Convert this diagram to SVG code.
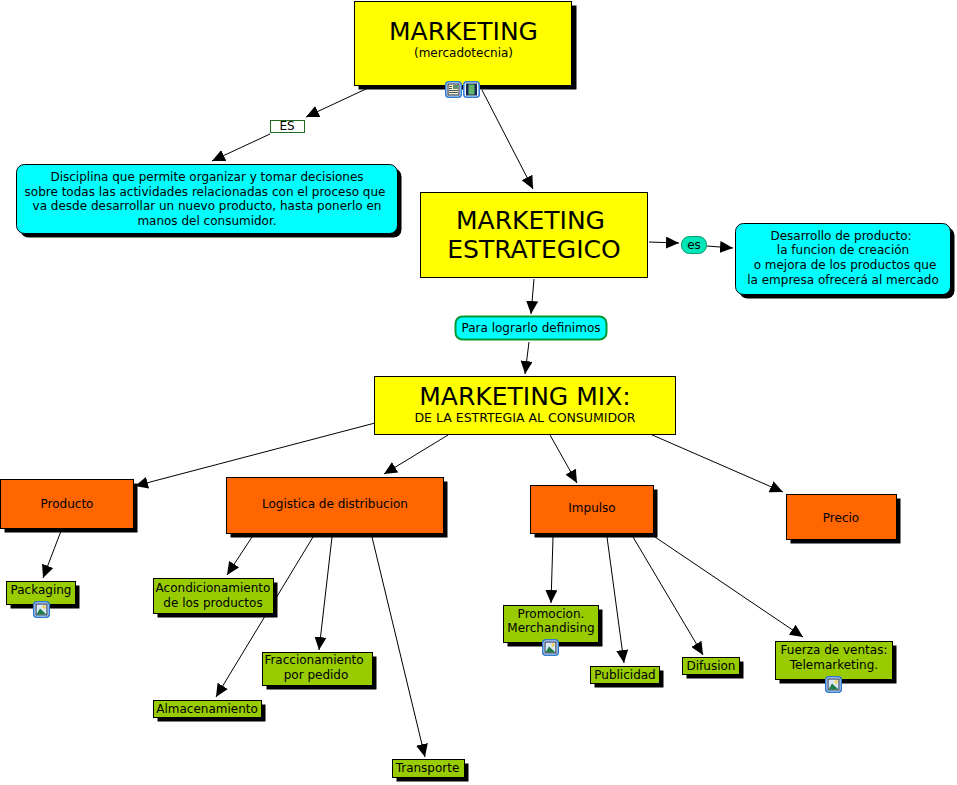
<svg xmlns="http://www.w3.org/2000/svg" width="957" height="785" viewBox="0 0 957 785">
<style>
text{font-family:"DejaVu Sans",Verdana,sans-serif;text-anchor:middle;fill:#000}
.s{font-size:12px}
.t{font-size:25px}
.c{stroke:#000;stroke-width:1;fill:none;marker-end:url(#a)}
.sh{fill:#000}
.b{stroke:#000;stroke-width:1}
.y{fill:#ffff00}.o{fill:#ff6600}.g{fill:#99cc00}.n{fill:#00ffff}
</style>
<defs>
<marker id="a" markerUnits="userSpaceOnUse" markerWidth="14" markerHeight="12" refX="13" refY="6" orient="auto"><path d="M0,0L13,6L0,12Z" fill="#000"/></marker>
<symbol id="pic" viewBox="0 0 17 17"><rect x=".75" y=".75" width="15.500" height="15.500" rx="3" fill="#eaf3fc" stroke="#2f78d0" stroke-width="1.500"/><rect x="3" y="3" width="11" height="11" fill="#d8e8f6" stroke="#14264f"/><circle cx="11" cy="6" r="1.700" fill="#f3d34a"/><path d="M3.500,13.500L7,7.500L13.500,13.500Z" fill="#1f7a45"/></symbol>
<symbol id="doc" viewBox="0 0 17 17"><rect x=".75" y=".75" width="15.500" height="15.500" rx="3" fill="#eaf3fc" stroke="#2f78d0" stroke-width="1.500"/><rect x="3" y="3" width="11" height="11" fill="#fff7c8" stroke="#14264f"/><rect x="8" y="4" width="5" height="4" fill="#5f8f70"/><path d="M4,9.500H13M4,11.500H13M4,5.500H7M4,7.500H7" stroke="#14264f" stroke-width=".8"/></symbol>
<symbol id="film" viewBox="0 0 17 17"><rect x=".75" y=".75" width="15.500" height="15.500" rx="3" fill="#eaf3fc" stroke="#2f78d0" stroke-width="1.500"/><rect x="3" y="2.500" width="11" height="12" fill="#14264f"/><rect x="5.500" y="3.500" width="6" height="10" fill="#63b46b"/></symbol>
</defs>
<g id="connectors">
<path class="c" d="M368,88L306,117"/>
<path class="c" d="M270,134L212,161"/>
<path class="c" d="M482,90L533,189"/>
<path class="c" d="M649,242L679,243"/>
<path class="c" d="M707,246L733,248"/>
<path class="c" d="M534,279L531,314"/>
<path class="c" d="M529,342L525,374"/>
<path class="c" d="M375,423L135,486"/>
<path class="c" d="M448,435L384,474"/>
<path class="c" d="M550,435L577,483"/>
<path class="c" d="M650,434L783,492"/>
<path class="c" d="M61,531L43,578"/>
<path class="c" d="M252,537L227,575"/>
<path class="c" d="M313,537L216,697"/>
<path class="c" d="M332,537L319,650"/>
<path class="c" d="M372,537L425,757"/>
<path class="c" d="M553,537L551,603"/>
<path class="c" d="M607,537L624,663"/>
<path class="c" d="M633,537L703,655"/>
<path class="c" d="M655,537L803,637"/>
</g>
<g id="n-marketing"><rect class="sh" x="358.500" y="5.500" width="218" height="84"/><rect class="b y" x="354.500" y="1.500" width="217" height="84"/><text class="t" x="463.500" y="40">MARKETING</text><text class="s" x="463.500" y="57">(mercadotecnia)</text><use href="#doc" x="445" y="81" width="17" height="17"/><use href="#film" x="463" y="81" width="17" height="17"/></g>
<g id="n-es"><rect x="270.500" y="120.500" width="34" height="12" fill="#fff" stroke="#1f6b1f"/><text class="s" x="287" y="130">ES</text></g>
<g id="n-disciplina"><rect class="sh" x="20.500" y="168.500" width="381" height="69" rx="8"/><rect class="b n" x="16.500" y="164.500" width="381" height="69" rx="8"/><text class="s" x="207" y="181">Disciplina que permite organizar y tomar decisiones</text><text class="s" x="205" y="196">sobre todas las actividades relacionadas con el proceso que</text><text class="s" x="207" y="210">va desde desarrollar un nuevo producto, hasta ponerlo en</text><text class="s" x="207" y="225">manos del consumidor.</text></g>
<g id="n-estrategico"><rect class="b y" x="420.500" y="192.500" width="227" height="85"/><text class="t" x="530.500" y="229">MARKETING</text><text class="t" x="534" y="258">ESTRATEGICO</text></g>
<g id="n-es2"><rect x="681.500" y="236.500" width="25" height="17" rx="8" fill="#00e6b8" stroke="#009966"/><text class="s" x="694" y="249">es</text></g>
<g id="n-desarrollo"><rect class="sh" x="739.500" y="227.500" width="215" height="71" rx="8"/><rect class="b n" x="735.500" y="223.500" width="215" height="71" rx="8"/><text class="s" x="841" y="240">Desarrollo de producto:</text><text class="s" x="843" y="254">la funcion de creación</text><text class="s" x="845" y="269">o mejora de los productos que</text><text class="s" x="843" y="284">la empresa ofrecerá al mercado</text></g>
<g id="n-para"><rect x="455.500" y="316.500" width="151" height="23" rx="7" fill="#00ffff" stroke="#009933" stroke-width="2"/><text class="s" x="531" y="332">Para lograrlo definimos</text></g>
<g id="n-mix"><rect class="b y" x="374.500" y="376.500" width="301" height="58"/><text class="t" x="525" y="405">MARKETING MIX:</text><text x="525" y="422" font-size="12.500">DE LA ESTRTEGIA AL CONSUMIDOR</text></g>
<g id="n-producto"><rect class="sh" x="4.500" y="483.500" width="133" height="49"/><rect class="b o" x=".5" y="479.500" width="133" height="49"/><text class="s" x="67" y="508">Producto</text></g>
<g id="n-logistica"><rect class="sh" x="230.500" y="481.500" width="217" height="56"/><rect class="b o" x="226.500" y="477.500" width="217" height="56"/><text class="s" x="335" y="508">Logistica de distribucion</text></g>
<g id="n-impulso"><rect class="sh" x="534.500" y="489.500" width="123" height="48"/><rect class="b o" x="530.500" y="485.500" width="123" height="48"/><text class="s" x="592" y="512">Impulso</text></g>
<g id="n-precio"><rect class="sh" x="790.500" y="498.500" width="110" height="45"/><rect class="b o" x="786.500" y="494.500" width="110" height="45"/><text class="s" x="841" y="522">Precio</text></g>
<g id="n-packaging"><rect class="sh" x="10.500" y="585.500" width="69" height="23"/><rect class="b g" x="6.500" y="581.500" width="69" height="23"/><text class="s" x="41" y="594">Packaging</text><use href="#pic" x="33" y="601" width="17" height="17"/></g>
<g id="n-acond"><rect class="sh" x="157.500" y="582.500" width="120" height="35"/><rect class="b g" x="153.500" y="578.500" width="120" height="35"/><text class="s" x="213" y="592">Acondicionamiento</text><text class="s" x="213" y="607">de los productos</text></g>
<g id="n-almacen"><rect class="sh" x="157.500" y="704.500" width="108" height="17"/><rect class="b g" x="153.500" y="700.500" width="108" height="17"/><text class="s" x="207" y="713">Almacenamiento</text></g>
<g id="n-fracc"><rect class="sh" x="266.500" y="656.500" width="110" height="33"/><rect class="b g" x="262.500" y="652.500" width="110" height="33"/><text class="s" x="314" y="664">Fraccionamiento</text><text class="s" x="316" y="679">por pedido</text></g>
<g id="n-transporte"><rect class="sh" x="396.500" y="763.500" width="72" height="18"/><rect class="b g" x="392.500" y="759.500" width="72" height="18"/><text class="s" x="427.500" y="772">Transporte</text></g>
<g id="n-promocion"><rect class="sh" x="507.500" y="609.500" width="95" height="37"/><rect class="b g" x="503.500" y="605.500" width="95" height="37"/><text class="s" x="551" y="618">Promocion.</text><text class="s" x="551" y="632">Merchandising</text><use href="#pic" x="542" y="639" width="17" height="17"/></g>
<g id="n-publicidad"><rect class="sh" x="594.500" y="670.500" width="69" height="17"/><rect class="b g" x="590.500" y="666.500" width="69" height="17"/><text class="s" x="625" y="679">Publicidad</text></g>
<g id="n-difusion"><rect class="sh" x="686.500" y="661.500" width="57" height="17"/><rect class="b g" x="682.500" y="657.500" width="57" height="17"/><text class="s" x="711" y="670">Difusion</text></g>
<g id="n-fuerza"><rect class="sh" x="779.500" y="645.500" width="117" height="38"/><rect class="b g" x="775.500" y="641.500" width="117" height="38"/><text class="s" x="834" y="654">Fuerza de ventas:</text><text class="s" x="834" y="669">Telemarketing.</text><use href="#pic" x="825" y="676" width="17" height="17"/></g>
</svg>
